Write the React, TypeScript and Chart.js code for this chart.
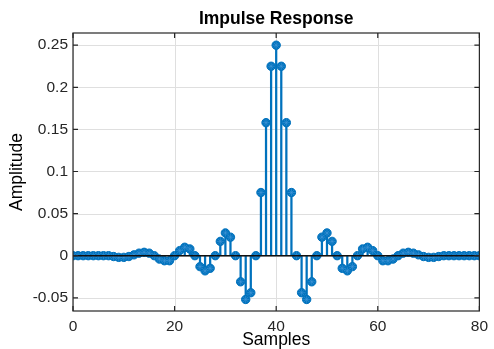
import React, { useEffect, useRef } from "react";
import { Chart, registerables } from "chart.js";

Chart.register(...registerables);

const titleText = "Impulse Response";
const xLabel = "Samples";
const yLabel = "Amplitude";

const amplitudes: number[] = [
  0, 0, 0, 0, 0, 0, 0, 0, -0.001, -0.002,
  -0.002, -0.001, 0.001, 0.003, 0.004, 0.003, 0, -0.004, -0.006, -0.006,
  0, 0.006, 0.01, 0.008, 0, -0.013, -0.018, -0.015, 0, 0.017,
  0.027, 0.022, 0, -0.031, -0.052, -0.044, 0, 0.075, 0.158, 0.225,
  0.25,
  0.225, 0.158, 0.075, 0, -0.044, -0.052, -0.031, 0, 0.022, 0.027,
  0.017, 0, -0.015, -0.018, -0.013, 0, 0.008, 0.01, 0.006, 0,
  -0.006, -0.006, -0.004, 0, 0.003, 0.004, 0.003, 0.001, -0.001, -0.002,
  -0.002, -0.001, 0, 0, 0, 0, 0, 0, 0, 0,
];

const xTicks: number[] = [0, 20, 40, 60, 80];
const yTicks: number[] = [-0.05, 0, 0.05, 0.1, 0.15, 0.2, 0.25];
const xRange: [number, number] = [0, 80];
const yRange: [number, number] = [-0.0657, 0.2645];

const BLUE = "#0072BD";
const AXIS = "#262626";
const GRID = "#dfdfdf";
const FONT = "'Liberation Sans', Arial, Helvetica, sans-serif";

const gridPlugin = {
  id: "matlabGrid",
  beforeDatasetsDraw(chart: any) {
    const { ctx, chartArea } = chart;
    const { left, right, top, bottom } = chartArea;
    const xs = chart.scales.x;
    const ys = chart.scales.y;
    ctx.save();
    ctx.strokeStyle = GRID;
    ctx.lineWidth = 1;
    ctx.beginPath();
    xTicks.forEach((v) => {
      const px = Math.round(xs.getPixelForValue(v)) + 0.5;
      ctx.moveTo(px, top);
      ctx.lineTo(px, bottom);
    });
    yTicks.forEach((v) => {
      const py = Math.round(ys.getPixelForValue(v)) + 0.5;
      ctx.moveTo(left, py);
      ctx.lineTo(right, py);
    });
    ctx.stroke();
    ctx.restore();
  },
};

const framePlugin = {
  id: "matlabFrame",
  afterDatasetsDraw(chart: any) {
    const { ctx, chartArea } = chart;
    const { left, right, top, bottom } = chartArea;
    const xs = chart.scales.x;
    const ys = chart.scales.y;
    ctx.save();
    ctx.strokeStyle = AXIS;
    ctx.lineWidth = 1.2;
    ctx.strokeRect(left, top, right - left, bottom - top);
    const tl = 5;
    ctx.beginPath();
    xTicks.forEach((v) => {
      const px = xs.getPixelForValue(v);
      ctx.moveTo(px, bottom);
      ctx.lineTo(px, bottom - tl);
      ctx.moveTo(px, top);
      ctx.lineTo(px, top + tl);
    });
    yTicks.forEach((v) => {
      const py = ys.getPixelForValue(v);
      ctx.moveTo(left, py);
      ctx.lineTo(left + tl, py);
      ctx.moveTo(right, py);
      ctx.lineTo(right - tl, py);
    });
    ctx.stroke();
    ctx.fillStyle = "#000";
    ctx.font = `bold 17.5px ${FONT}`;
    ctx.textAlign = "center";
    ctx.textBaseline = "middle";
    ctx.fillText(titleText, (left + right) / 2, 19);
    ctx.restore();
  },
};

export default function App() {
  const ref = useRef<HTMLCanvasElement>(null);

  useEffect(() => {
    if (!ref.current) return;
    const points = amplitudes.map((v, i) => ({ x: i, y: v }));
    const chart = new Chart(ref.current, {
      type: "bar",
      data: {
        datasets: [
          {
            type: "line",
            data: [
              { x: xRange[0], y: 0 },
              { x: xRange[1], y: 0 },
            ],
            borderColor: "#111",
            borderWidth: 1.6,
            pointRadius: 0,
            order: 0,
          } as any,
          {
            type: "line",
            data: points,
            showLine: false,
            pointStyle: "star",
            pointRadius: 3.5,
            pointBorderWidth: 0.8,
            pointBorderColor: "rgba(70,150,215,0.7)",
            pointBackgroundColor: "rgba(0,0,0,0)",
            order: 1,
          } as any,
          {
            type: "line",
            data: points,
            showLine: false,
            pointStyle: "circle",
            pointRadius: 4.2,
            pointBorderWidth: 1,
            pointBorderColor: BLUE,
            pointBackgroundColor: BLUE,
            order: 2,
          } as any,
          {
            type: "bar",
            data: points,
            backgroundColor: BLUE,
            borderWidth: 0,
            barThickness: 1.6,
            order: 3,
          } as any,
        ],
      },
      options: {
        animation: false,
        responsive: false,
        maintainAspectRatio: false,
        layout: { padding: { left: 0, right: 9, top: 33, bottom: 0 } },
        plugins: {
          legend: { display: false },
          tooltip: { enabled: false },
          title: { display: false },
        },
        scales: {
          x: {
            type: "linear",
            min: xRange[0],
            max: xRange[1],
            offset: false,
            afterBuildTicks: (s: any) => {
              s.ticks = xTicks.map((v) => ({ value: v }));
            },
            afterFit: (s: any) => {
              s.height = 38;
            },
            ticks: {
              color: AXIS,
              font: { family: FONT, size: 15.5 },
              padding: 6,
              maxRotation: 0,
              autoSkip: false,
              callback: (v: any) => String(v),
            },
            grid: { display: false, drawTicks: false },
            border: { display: false },
            title: {
              display: true,
              text: xLabel,
              color: "#000",
              font: { family: FONT, size: 17.5, lineHeight: 1 },
              padding: { top: 0, bottom: 0 },
            },
          },
          y: {
            type: "linear",
            min: yRange[0],
            max: yRange[1],
            afterBuildTicks: (s: any) => {
              s.ticks = yTicks.map((v) => ({ value: v }));
            },
            afterFit: (s: any) => {
              s.width = 73;
            },
            ticks: {
              color: AXIS,
              font: { family: FONT, size: 15.5 },
              padding: 5,
              autoSkip: false,
              callback: (v: any) => String(v),
            },
            grid: { display: false, drawTicks: false },
            border: { display: false },
            title: {
              display: true,
              text: yLabel,
              color: "#000",
              font: { family: FONT, size: 17.5, lineHeight: 1 },
              padding: { top: 8, bottom: 0 },
            },
          },
        },
      },
      plugins: [gridPlugin, framePlugin],
    } as any);
    return () => chart.destroy();
  }, []);

  return (
    <div style={{ position: "fixed", left: 0, top: 0, width: 494, height: 349, background: "#fff" }}>
      <canvas ref={ref} width={494} height={349} style={{ width: 494, height: 349 }} />
    </div>
  );
}
